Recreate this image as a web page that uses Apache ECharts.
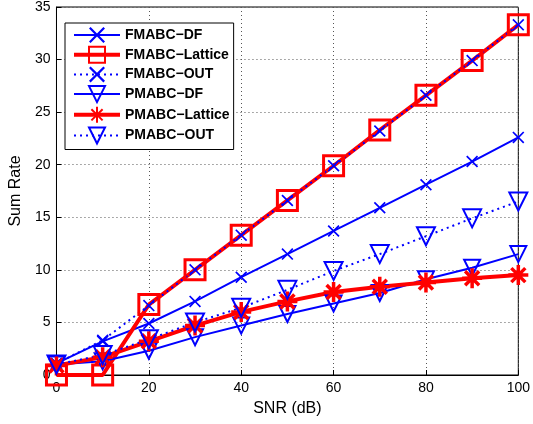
<!DOCTYPE html>
<html>
<head>
<meta charset="utf-8">
<script src="https://cdn.jsdelivr.net/npm/echarts@6/dist/echarts.min.js"></script>
<style>html,body{margin:0;padding:0;background:#fff}#c{width:533px;height:424px}</style>
</head>
<body>
<div id="c"></div>
<script>
const snr = [0, 10, 20, 30, 40, 50, 60, 70, 80, 90, 100];
const fmabcDF = [1.1, 3.2, 4.9, 7.0, 9.3, 11.5, 13.7, 15.9, 18.1, 20.3, 22.6];
const fmabcLattice = [0, 0, 6.7, 10.0, 13.3, 16.6, 19.9, 23.3, 26.6, 29.9, 33.3];
const fmabcOUT = [1.1, 3.3, 6.6, 10.0, 13.3, 16.6, 19.9, 23.2, 26.6, 29.9, 33.3];
const pmabcDF = [1.0, 1.3, 2.3, 3.6, 4.7, 5.8, 6.8, 7.8, 9.1, 10.2, 11.5];
const pmabcLattice = [0.9, 1.7, 3.2, 4.7, 6.0, 7.0, 7.9, 8.4, 8.8, 9.2, 9.5];
const pmabcOUT = [1.0, 1.9, 3.4, 5.0, 6.4, 8.1, 9.9, 11.5, 13.2, 14.9, 16.5];
const xTicks = [0, 20, 40, 60, 80, 100];
const yTicks = [0, 5, 10, 15, 20, 25, 30, 35];
const names = ['FMABC−DF', 'FMABC−Lattice', 'FMABC−OUT', 'PMABC−DF', 'PMABC−Lattice', 'PMABC−OUT'];

const BLUE = '#0000ff', RED = '#ff0000';
const XPATH = 'path://M0,1L1,0L5,4L9,0L10,1L6,5L10,9L9,10L5,6L1,10L0,9L4,5Z';
const STAR = 'path://M5,0L5,10M0,5L10,5M1.5,1.5L8.5,8.5M8.5,1.5L1.5,8.5';
const pair = a => a.map((v, i) => [snr[i], v]);

function mk(name, data, color, width, type, symbol, size, itemStyle, rotate) {
  return {
    name, type: 'line', data: pair(data), symbol, symbolSize: size, symbolRotate: rotate || 0,
    lineStyle: { color, width, type },
    itemStyle, emphasis: { disabled: true }, animation: false
  };
}

const chart = echarts.init(document.getElementById('c'));
chart.setOption({
  animation: false,
  textStyle: { fontFamily: 'Liberation Sans, Arial, sans-serif' },
  grid: { left: 53, right: 11, top: 6, bottom: 49, show: true, borderColor: '#000', borderWidth: 1, backgroundColor: 'transparent' },
  xAxis: {
    type: 'value', min: 0, max: 100, interval: 20,
    name: 'SNR (dB)', nameLocation: 'middle', nameGap: 26,
    nameTextStyle: { fontSize: 16, color: '#000' },
    axisLine: { show: true, onZero: false, lineStyle: { color: '#000', width: 1 } },
    axisTick: { show: true, inside: true, length: 5, lineStyle: { color: '#000' } },
    axisLabel: { color: '#000', fontSize: 14, margin: 6, formatter: v => xTicks.includes(v) ? String(v) : '' },
    splitLine: { show: true, lineStyle: { color: '#555', type: [1, 3], width: 1 } }
  },
  yAxis: {
    type: 'value', min: 0, max: 35, interval: 5,
    name: 'Sum Rate', nameLocation: 'middle', nameGap: 26,
    nameTextStyle: { fontSize: 16, color: '#000' },
    axisLine: { show: true, onZero: false, lineStyle: { color: '#000', width: 1 } },
    axisTick: { show: true, inside: true, length: 5, lineStyle: { color: '#000' } },
    axisLabel: { color: '#000', fontSize: 14, margin: 6, formatter: v => yTicks.includes(v) ? String(v) : '' },
    splitLine: { show: true, lineStyle: { color: '#555', type: [1, 3], width: 1 } }
  },
  legend: {
    orient: 'vertical', left: 65, top: 23,
    backgroundColor: '#fff', borderColor: '#000', borderWidth: 1,
    padding: [4, 4, 5, 7], itemWidth: 46, itemHeight: 20, itemGap: 2.7,
    textStyle: { fontSize: 14, fontWeight: 'bold', color: '#000' },
    data: names.map((n, i) => ({ name: n, lineStyle: { width: (i === 1 || i === 4) ? 4 : 2 } }))
  },
  series: [
    mk(names[0], fmabcDF, BLUE, 2, 'solid', XPATH, 12, { color: BLUE }),
    mk(names[1], fmabcLattice, RED, 4, 'solid', 'rect', 20, { color: 'rgba(0,0,0,0)', borderColor: RED, borderWidth: 3 }),
    mk(names[2], fmabcOUT, BLUE, 2, [2, 4], XPATH, 12, { color: BLUE }),
    mk(names[3], pmabcDF, BLUE, 2, 'solid', 'triangle', 16, { color: 'rgba(0,0,0,0)', borderColor: BLUE, borderWidth: 2 }, 180),
    mk(names[4], pmabcLattice, RED, 4, 'solid', STAR, 20, { color: RED, borderColor: RED, borderWidth: 3.5 }),
    mk(names[5], pmabcOUT, BLUE, 2, [2, 4], 'triangle', 18, { color: 'rgba(0,0,0,0)', borderColor: BLUE, borderWidth: 2 }, 180)
  ]
});
</script>
</body>
</html>
